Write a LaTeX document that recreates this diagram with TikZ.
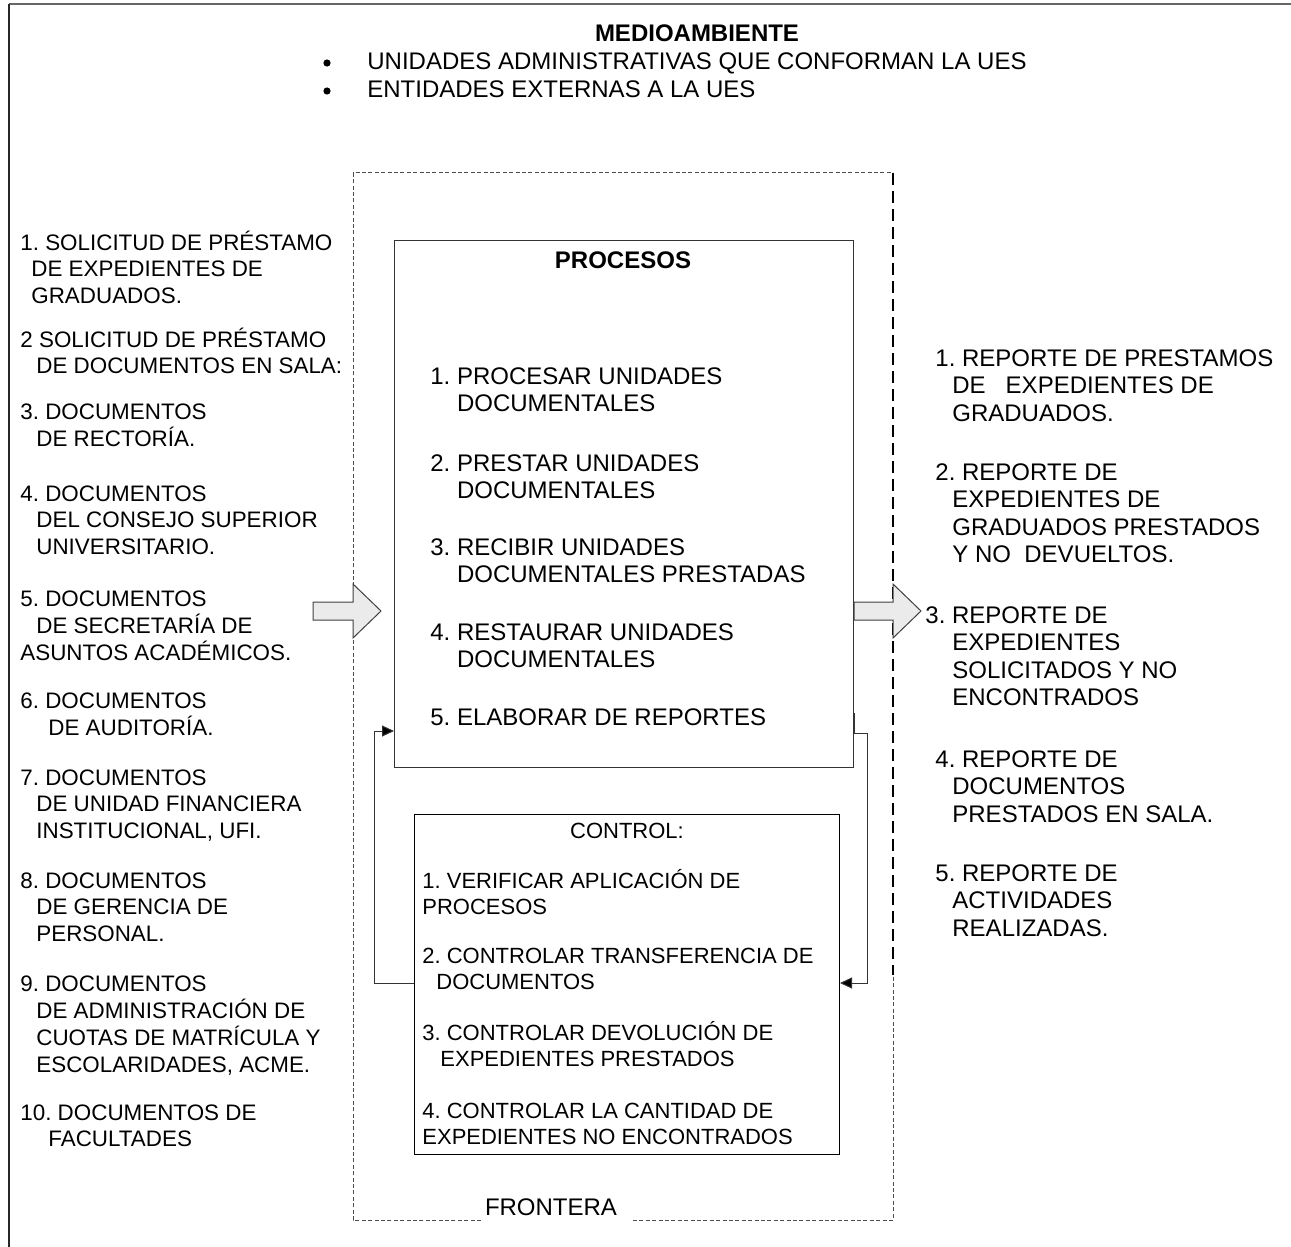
\documentclass[tikz,border=0pt]{standalone}
\usepackage{fontspec}
\setmainfont{Liberation Sans}
\usetikzlibrary{arrows.meta}
\frenchspacing

% multi-line text block whose baseline is the first line
\newcommand{\txtlines}[1]{\begin{tabular}[t]{@{}l@{}}#1\end{tabular}}
% hanging indent as wide as an item number
\newcommand{\hind}{\hphantom{1. }}

\tikzset{
  ink/.style={draw=black!80, line width=0.5pt},
  finedash/.style={draw=black!70, line width=0.5pt, dash pattern=on 2pt off 1.2pt},
  longdash/.style={draw=black, line width=0.9pt, dash pattern=on 6pt off 3pt},
  boxstyle/.style={ink, anchor=north west, inner sep=0pt},
  blockarrow/.style={draw=black!75, fill=black!8, line width=0.5pt, line join=miter},
  fb/.style={ink, -{Triangle[length=6pt,width=5.5pt,fill=black]}},
  bulletdot/.style={circle, fill=black, inner sep=0pt, minimum size=3.6pt},
  txtS/.style={anchor=base west, inner sep=0pt, font=\fontsize{11.2}{13.25}\selectfont},
  txtM/.style={anchor=base west, inner sep=0pt, font=\fontsize{12}{13.5}\selectfont},
  txtR/.style={anchor=base west, inner sep=0pt, font=\fontsize{12}{13.75}\selectfont},
  txtC/.style={anchor=base west, inner sep=0pt, font=\fontsize{11}{13}\selectfont},
}

\begin{document}
\begin{tikzpicture}[x=0.5pt, y=-0.5pt]
\useasboundingbox (0,0) rectangle (1291,1247);

% environment frame
\draw[draw=black!60, line width=1pt] (9,4) -- (1291,4);
\draw[draw=black!85, line width=1pt] (9,4) -- (9,1247);

% heading
\node[anchor=base, inner sep=0pt, font=\fontsize{12}{14}\selectfont\bfseries] (env) at (697,42) {MEDIOAMBIENTE};
\node[bulletdot] (b1) at (327,63) {};
\node[bulletdot] (b2) at (327,91) {};
\node[txtM] (env1) at (367,70) {UNIDADES ADMINISTRATIVAS QUE CONFORMAN LA UES};
\node[txtM] (env2) at (367,98) {ENTIDADES EXTERNAS A LA UES};

% system boundary
\draw[finedash] (481,1220) -- (353,1220) -- (353,173) -- (893,173);
\draw[finedash] (633,1220) -- (893,1220) -- (893,975);
\draw[longdash] (893,173) -- (893,975);
\node[anchor=base, inner sep=0pt, font=\fontsize{12}{14}\selectfont] (front) at (551,1215) {FRONTERA};

% process and control boxes
\node[boxstyle, minimum width=229.5pt, minimum height=263.5pt] (proc) at (394,240) {};
\node[boxstyle, draw=black, minimum width=212.5pt, minimum height=170pt] (ctrl) at (414,814) {};

% inputs and outputs
\draw[blockarrow] (313,602) -- (353,602) -- (353,584) -- (381,611) -- (353,638) -- (353,620) -- (313,620) -- cycle;
\draw[blockarrow] (proc.east |- 0,602) -- (893,602) -- (893,584) -- (921,611) -- (893,638) -- (893,620) -- (proc.east |- 0,620) -- cycle;

% feedback loops
\coordinate (fl) at (374,983);
\coordinate (flt) at (374,731);
\coordinate (fr) at (867,983);
\coordinate (frt) at (867,733);
\coordinate (frs) at (853,713);
\draw[fb] (ctrl.west |- fl) -- (fl) -- (flt) -- (proc.west |- flt);
\draw[fb] (proc.east |- frs) -- (proc.east |- frt) -- (frt) -- (fr) -- (ctrl.east |- fr);

% process box text
\node[anchor=base, inner sep=0pt, font=\fontsize{12}{14}\selectfont\bfseries] (ptitle) at (623,268) {PROCESOS};
\node[txtM] (p1) at (430,384) {\txtlines{1. PROCESAR UNIDADES\\ \hind DOCUMENTALES}};
\node[txtM] (p2) at (430,471) {\txtlines{2. PRESTAR UNIDADES\\ \hind DOCUMENTALES}};
\node[txtM] (p3) at (430,555) {\txtlines{3. RECIBIR UNIDADES\\ \hind DOCUMENTALES PRESTADAS}};
\node[txtM] (p4) at (430,640) {\txtlines{4. RESTAURAR UNIDADES\\ \hind DOCUMENTALES}};
\node[txtM] (p5) at (430,725) {5. ELABORAR DE REPORTES};

% control box text
\node[anchor=base, inner sep=0pt, font=\fontsize{11}{13}\selectfont] (ctitle) at (627,838) {CONTROL:};
\node[txtC] (c1) at (422,888) {\txtlines{1. VERIFICAR APLICACIÓN DE\\ PROCESOS}};
\node[txtC] (c2) at (422,963) {\txtlines{2. CONTROLAR TRANSFERENCIA DE\\ \hspace*{7pt}DOCUMENTOS}};
\node[txtC] (c3) at (422,1040) {\txtlines{3. CONTROLAR DEVOLUCIÓN DE\\ \hspace*{9pt}EXPEDIENTES PRESTADOS}};
\node[txtC] (c4) at (422,1118) {\txtlines{4. CONTROLAR LA CANTIDAD DE\\ EXPEDIENTES NO ENCONTRADOS}};

% inputs
\node[txtS] (l1) at (20,250) {\txtlines{1. SOLICITUD DE PRÉSTAMO\\ \hspace*{5.5pt}DE EXPEDIENTES DE\\ \hspace*{5.5pt}GRADUADOS.}};
\node[txtS] (l2) at (20,347) {\txtlines{2 SOLICITUD DE PRÉSTAMO\\ \hspace*{8pt}DE DOCUMENTOS EN SALA:}};
\node[txtS] (l3) at (20,419) {\txtlines{3. DOCUMENTOS\\ \hspace*{8pt}DE RECTORÍA.}};
\node[txtS] (l4) at (20,501) {\txtlines{4. DOCUMENTOS\\ \hspace*{8pt}DEL CONSEJO SUPERIOR\\ \hspace*{8pt}UNIVERSITARIO.}};
\node[txtS] (l5) at (20,606) {\txtlines{5. DOCUMENTOS\\ \hspace*{8pt}DE SECRETARÍA DE\\ ASUNTOS ACADÉMICOS.}};
\node[txtS] (l6) at (20,708) {\txtlines{6. DOCUMENTOS\\ \hspace*{14pt}DE AUDITORÍA.}};
\node[txtS] (l7) at (20,785) {\txtlines{7. DOCUMENTOS\\ \hspace*{8pt}DE UNIDAD FINANCIERA\\ \hspace*{8pt}INSTITUCIONAL, UFI.}};
\node[txtS] (l8) at (20,888) {\txtlines{8. DOCUMENTOS\\ \hspace*{8pt}DE GERENCIA DE\\ \hspace*{8pt}PERSONAL.}};
\node[txtS] (l9) at (20,991) {\txtlines{9. DOCUMENTOS\\ \hspace*{8pt}DE ADMINISTRACIÓN DE\\ \hspace*{8pt}CUOTAS DE MATRÍCULA Y\\ \hspace*{8pt}ESCOLARIDADES, ACME.}};
\node[txtS] (l10) at (20,1120) {\txtlines{10. DOCUMENTOS DE\\ \hspace*{14pt}FACULTADES}};

% outputs
\node[txtR] (r1) at (935,366) {\txtlines{1. REPORTE DE PRESTAMOS\\ \hspace*{8.5pt}DE\ \ \ EXPEDIENTES DE\\ \hspace*{8.5pt}GRADUADOS.}};
\node[txtR] (r2) at (935,480) {\txtlines{2. REPORTE DE\\ \hspace*{8.5pt}EXPEDIENTES DE\\ \hspace*{8.5pt}GRADUADOS PRESTADOS\\ \hspace*{8.5pt}Y NO\ \ DEVUELTOS.}};
\node[txtR] (r3) at (925,623) {\txtlines{3. REPORTE DE\\ \hspace*{13.5pt}EXPEDIENTES\\ \hspace*{13.5pt}SOLICITADOS Y NO\\ \hspace*{13.5pt}ENCONTRADOS}};
\node[txtR] (r4) at (935,767) {\txtlines{4. REPORTE DE\\ \hspace*{8.5pt}DOCUMENTOS\\ \hspace*{8.5pt}PRESTADOS EN SALA.}};
\node[txtR] (r5) at (935,881) {\txtlines{5. REPORTE DE\\ \hspace*{8.5pt}ACTIVIDADES\\ \hspace*{8.5pt}REALIZADAS.}};
\end{tikzpicture}
\end{document}
